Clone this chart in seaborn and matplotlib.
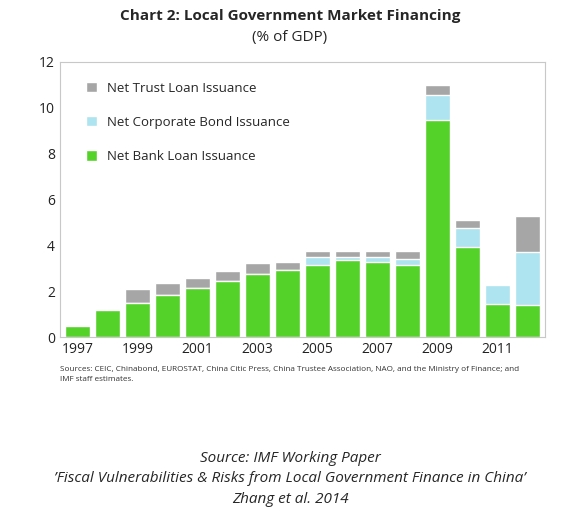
import matplotlib
matplotlib.use('Agg')
import matplotlib.pyplot as plt
import seaborn as sns
import pandas as pd

sns.set_style('white')
plt.rcParams['font.family'] = ['Open Sans', 'DejaVu Sans']

years = list(range(1997, 2013))
bank = [0.5, 1.2, 1.5, 1.85, 2.15, 2.45, 2.75, 2.95, 3.15, 3.35, 3.3, 3.15, 9.45, 3.95, 1.45, 1.4]
bond = [0, 0, 0, 0, 0, 0, 0, 0, 0.35, 0.15, 0.2, 0.25, 1.1, 0.8, 0.85, 2.3]
trust = [0, 0, 0.6, 0.5, 0.45, 0.45, 0.5, 0.35, 0.25, 0.25, 0.25, 0.35, 0.45, 0.35, 0, 1.6]

df = pd.DataFrame({'Year': [str(y) for y in years], 'bank': bank, 'bond': bond, 'trust': trust})
df['b2'] = df['bank'] + df['bond']
df['b3'] = df['b2'] + df['trust']

fig = plt.figure(figsize=(5.8, 5.23), dpi=100)
ax = fig.add_axes([0.103, 0.355, 0.837, 0.527])

sns.barplot(data=df, x='Year', y='b3', color='#a6a6a6', width=0.82, saturation=1, ax=ax,
            label='Net Trust Loan Issuance')
sns.barplot(data=df, x='Year', y='b2', color='#aee3f0', width=0.82, saturation=1, ax=ax,
            label='Net Corporate Bond Issuance')
sns.barplot(data=df, x='Year', y='bank', color='#55d22a', width=0.82, saturation=1, ax=ax,
            label='Net Bank Loan Issuance')

ax.set_ylim(0, 12)
ax.set_xlim(-0.6, 15.6)
ax.set_yticks(range(0, 13, 2))
ax.set_xticks(range(0, 16, 2))
ax.set_xticklabels([str(y) for y in years[::2]])
ax.tick_params(labelsize=10, colors='#222222', length=0)
ax.set_xlabel('')
ax.set_ylabel('')
for s in ax.spines.values():
    s.set_color('#c8c8c8')
    s.set_linewidth(0.8)

ax.legend(loc='upper left', frameon=False, fontsize=9.5, handlelength=0.8, handleheight=0.8,
          labelspacing=1.6, bbox_to_anchor=(0.03, 0.97))

fig.text(0.5, 0.962, 'Chart 2: Local Government Market Financing', ha='center', fontsize=11, fontweight='bold')
fig.text(0.5, 0.922, '(% of GDP)', ha='center', fontsize=11)
fig.text(0.103, 0.3, 'Sources: CEIC, Chinabond, EUROSTAT, China Citic Press, China Trustee Association, NAO, and the Ministry of Finance; and\nIMF staff estimates.',
         fontsize=5.9, color='#333333', va='top', linespacing=1.5)
fig.text(0.5, 0.085, "Source: IMF Working Paper\n\u2019Fiscal Vulnerabilities & Risks from Local Government Finance in China\u2019\nZhang et al. 2014",
         ha='center', va='center', fontsize=11, style='italic', linespacing=1.5)

fig.savefig('out.png', dpi=100, facecolor='white')
